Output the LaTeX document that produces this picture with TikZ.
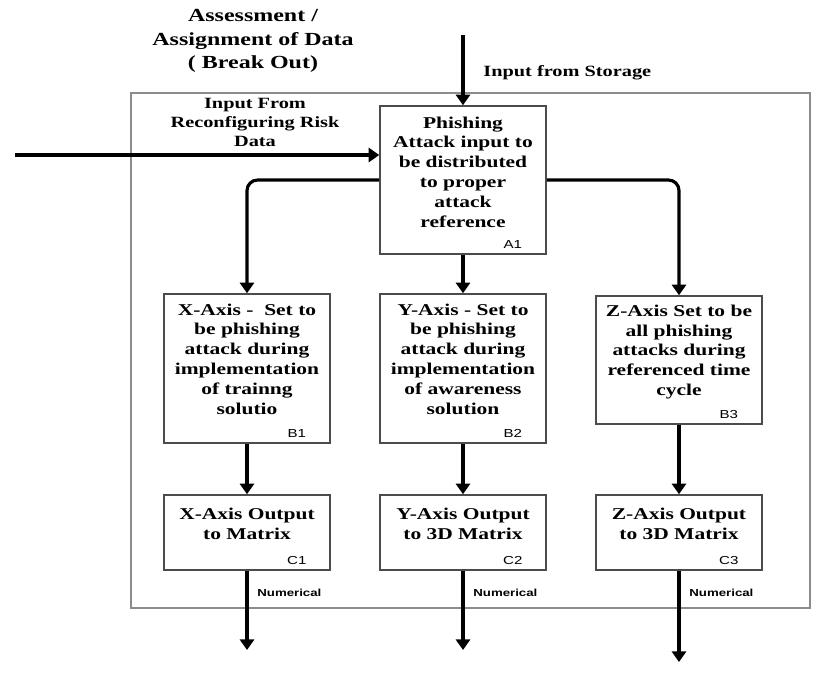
\documentclass[tikz,border=0pt]{standalone}
\usepackage{fontspec}
\setmainfont{Liberation Serif}[FakeStretch=1.3]
\setsansfont{Liberation Sans}[FakeStretch=1.3]
\usetikzlibrary{arrows.meta,calc}

\tikzset{
  blk/.style={draw=black!70, line width=0.9pt, minimum width=3.32cm},
  blktxt/.style={align=center, inner sep=0pt, font=\fontsize{9.4}{11.3}\selectfont\bfseries},
  tag/.style={inner sep=0pt, font=\sffamily\fontsize{6.6}{7}\selectfont},
  lbl/.style={align=center, inner sep=0pt, font=\fontsize{8.9}{10.8}\selectfont\bfseries},
  flow/.style={line width=1.8pt, -{Triangle[length=6pt,width=8pt]}}
}

\begin{document}
\begin{tikzpicture}[x=0.02cm, y=-0.02cm]
\useasboundingbox (0,0) rectangle (817,677);

% frame of the break-out
\draw[black!45, line width=1pt] (131,93) rectangle (810,608);

\node[blk, minimum height=2.96cm] (a1) at (463,180)   {};
\node[blk, minimum height=2.98cm] (b1) at (247,368.5) {};
\node[blk, minimum height=2.98cm] (b2) at (463,368.5) {};
\node[blk, minimum height=2.56cm] (b3) at (679,360)   {};
\foreach \x/\c in {247/1,463/2,679/3}
  \node[blk, minimum height=1.5cm] (c\c) at (\x,532.5) {};

\node[blktxt] (a1txt) at (463,172) {Phishing\\Attack input to\\be distributed\\to proper\\attack\\reference};
\node[blktxt] (b1txt) at (247,359) {X-Axis - \ Set to\\be phishing\\attack during\\implementation\\of trainng\\solutio};
\node[blktxt] (b2txt) at (463,359) {Y-Axis - Set to\\be phishing\\attack during\\implementation\\of awareness\\solution};
\node[blktxt] (b3txt) at (679,352) {Z-Axis Set to be\\all phishing\\attacks during\\referenced time\\cycle};
\node[blktxt] (c1txt) at (247,524) {X-Axis Output\\to Matrix};
\node[blktxt] (c2txt) at (463,524) {Y-Axis Output\\to 3D Matrix};
\node[blktxt] (c3txt) at (679,524) {Z-Axis Output\\to 3D Matrix};

\foreach \id/\t in {a1/A1,b1/B1,b2/B2,b3/B3,c1/C1,c2/C2,c3/C3}
  \node[tag] (t\id) at ($(\id.south east)+(-34,-10)$) {\t};

% inputs
\coordinate (store) at (463,35);
\coordinate (risk)  at (15,155);
\draw[flow] (store) -- (a1.north);
\draw[flow] (risk) -- (risk -| a1.west);

\node[lbl, anchor=west] (storelbl) at (483,73) {Input from Storage};
\node[lbl] (risklbl) at (255,122) {Input From\\Reconfiguring Risk\\Data};
\node[align=center, inner sep=0pt, font=\fontsize{10.5}{13.3}\selectfont\bfseries]
  (title) at (253,41) {Assessment /\\Assignment of Data\\( Break Out)};

% distribution to the axes
\draw[flow, rounded corners=6pt] (a1.west) -| (b1.north);
\draw[flow] (a1.south) -- (b2.north);
\draw[flow, rounded corners=6pt] (a1.east) -| (b3.north);

% outputs
\coordinate (o1) at (247,650);
\coordinate (o2) at (463,650);
\coordinate (o3) at (679,662);
\foreach \c in {1,2,3} {
  \draw[flow] (b\c.south) -- (c\c.north);
  \draw[flow] (c\c.south) -- (o\c);
  \node[tag, anchor=west, font=\sffamily\bfseries\fontsize{5.8}{6}\selectfont]
    (num\c) at ($(c\c.south)+(10,22)$) {Numerical};
}
\end{tikzpicture}
\end{document}
